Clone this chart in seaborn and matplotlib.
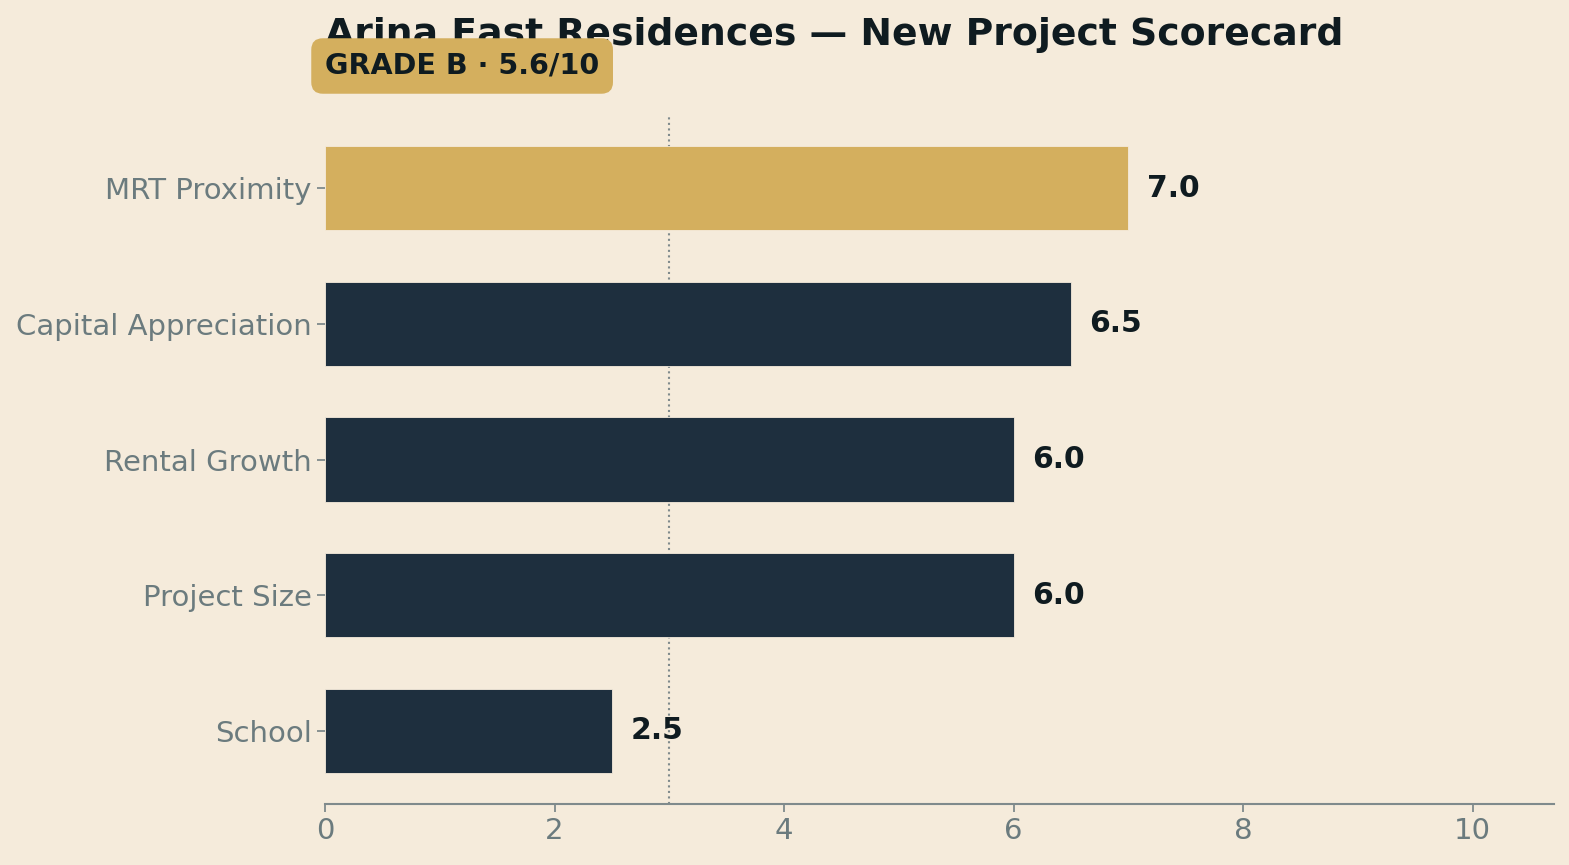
import pandas as pd
import seaborn as sns
import matplotlib.pyplot as plt

categories = ["MRT Proximity", "Capital Appreciation", "Rental Growth", "Project Size", "School"]
scores = [7.0, 6.5, 6.0, 6.0, 2.5]
threshold = 3.0
grade_label = "GRADE B · 5.6/10"
title = "Arina East Residences — New Project Scorecard"

BG = "#F5EBDB"
GOLD = "#D4AF5E"
NAVY = "#1E2F3E"
INK = "#0F1B20"
GREY = "#6B7B7E"
SPINE = "#7F8A8C"

df = pd.DataFrame({"category": categories, "score": scores})
top = df.loc[df["score"].idxmax(), "category"]
palette = {c: (GOLD if c == top else NAVY) for c in categories}

sns.set_theme(style="white")
plt.rcParams["font.family"] = ["DejaVu Sans"]

fig = plt.figure(figsize=(15.69, 8.65), dpi=100, facecolor=BG)
ax = fig.add_axes([325 / 1569, 61 / 865, (1554 - 325) / 1569, (804 - 115) / 865])
ax.set_facecolor(BG)

sns.barplot(data=df, y="category", x="score", hue="category", palette=palette,
            orient="h", width=0.62, saturation=1, edgecolor=BG, linewidth=0.6,
            legend=False, ax=ax)

# benchmark line
ax.axvline(threshold, color=SPINE, linestyle=":", linewidth=1.5, zorder=0)

for i, v in enumerate(scores):
    ax.text(v + 0.16, i, f"{v:.1f}", va="center", ha="left",
            fontsize=21.5, fontweight="bold", color=INK)

ax.set_xlim(0, 10.71)
ax.set_ylim(4.54, -0.54)
ax.set_xticks([0, 2, 4, 6, 8, 10])
ax.set_xlabel("")
ax.set_ylabel("")
for s in ["top", "right", "left"]:
    ax.spines[s].set_visible(False)
ax.spines["bottom"].set_color(SPINE)
ax.spines["bottom"].set_linewidth(1.5)
ax.tick_params(axis="both", colors=SPINE, labelcolor=GREY, labelsize=21,
               length=6, width=1.3, left=True, bottom=True)

fig.text(325 / 1569, 1 - 45 / 865, title, ha="left", va="baseline",
         fontsize=27.2, fontweight="bold", color=INK)
fig.text(325 / 1569, 1 - 74 / 865, grade_label, ha="left", va="baseline",
         fontsize=20.6, fontweight="bold", color=INK,
         bbox=dict(boxstyle="round,pad=0.48,rounding_size=0.4", facecolor=GOLD, edgecolor="none"))

fig.savefig("out.png", dpi=100, facecolor=BG)
